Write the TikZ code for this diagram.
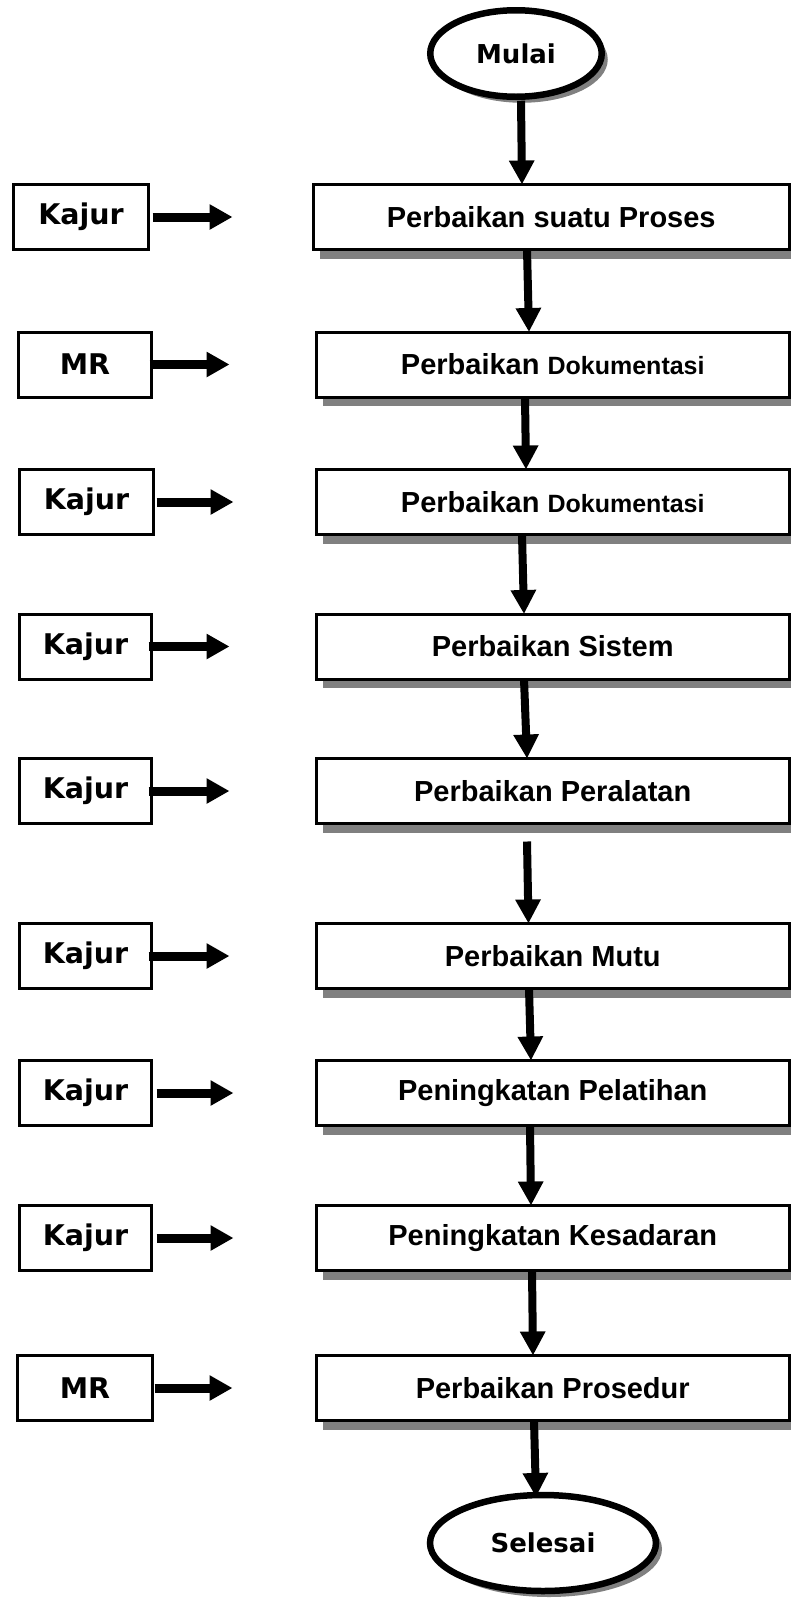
\documentclass[tikz,border=0pt]{standalone}
\usepackage{fontspec}
\setmainfont{Liberation Sans}
\newfontfamily\vfont{DejaVu Sans}
\usetikzlibrary{arrows.meta,shapes.geometric,shadows}
\definecolor{shadowgray}{RGB}{128,128,128}
\tikzset{
  mainbox/.style={draw, rectangle, line width=3pt, fill=white, minimum width=472.5pt,
    minimum height=65pt, inner sep=0pt, outer sep=0pt,
    font=\fontsize{29}{33}\selectfont\bfseries,
    drop shadow={shadow xshift=6pt, shadow yshift=-9pt, fill=shadowgray, opacity=1}},
  sidebox/.style={draw, rectangle, line width=3pt, fill=white, minimum width=133pt,
    minimum height=65pt, inner sep=0pt, outer sep=0pt,
    font=\vfont\fontsize{28.5}{32}\selectfont\bfseries},
  term/.style={ellipse, draw, line width=6.5pt, fill=white, inner sep=0pt, outer sep=0pt,
    font=\vfont\fontsize{26}{30}\selectfont\bfseries,
    drop shadow={shadow xshift=6pt, shadow yshift=-6pt, fill=shadowgray, opacity=1}},
  flow/.style={line width=8pt, -{Triangle[length=24pt,width=24pt]}},
  sideflow/.style={line width=9pt, -{Triangle[length=23pt,width=24pt]}}
}
\newcommand{\dokfont}{\fontsize{25}{30}\selectfont}
\begin{document}
\begin{tikzpicture}[x=1pt,y=-1pt]
\useasboundingbox (0,0) rectangle (791,1599);
\fill[white] (0,0) rectangle (791,1599);

% terminals
\node[term, minimum width=171.5pt, minimum height=86.5pt] (mulai) at (516,53.5) {Mulai};
\node[term, minimum width=226pt, minimum height=96pt] (selesai) at (543,1543) {Selesai};

% main process boxes
\node[mainbox, minimum width=475.5pt] (b1) at (551.25,217) {Perbaikan suatu Proses};
\node[mainbox] (b2) at (552.75,364.5) {Perbaikan {\dokfont Dokumentasi}};
\node[mainbox] (b3) at (552.75,502) {Perbaikan {\dokfont Dokumentasi}};
\node[mainbox] (b4) at (552.75,646.5) {Perbaikan Sistem};
\node[mainbox] (b5) at (552.75,791) {Perbaikan Peralatan};
\node[mainbox] (b6) at (552.75,956) {Perbaikan Mutu};
\node[mainbox] (b7) at (552.75,1093) {Peningkatan Pelatihan};
\node[mainbox] (b8) at (552.75,1238) {Peningkatan Kesadaran};
\node[mainbox] (b9) at (552.75,1388) {Perbaikan Prosedur};

% side boxes
\node[sidebox, minimum width=135pt] (l1) at (81,217) {Kajur};
\node[sidebox] (l2) at (85,364.5) {MR};
\node[sidebox, minimum width=134pt] (l3) at (86.5,502) {Kajur};
\node[sidebox, minimum width=132pt] (l4) at (85.5,646.5) {Kajur};
\node[sidebox, minimum width=132pt] (l5) at (85.5,791) {Kajur};
\node[sidebox, minimum width=132pt] (l6) at (85.5,956) {Kajur};
\node[sidebox, minimum width=132pt] (l7) at (85.5,1093) {Kajur};
\node[sidebox, minimum width=132pt] (l8) at (85.5,1238) {Kajur};
\node[sidebox, minimum width=135pt] (l9) at (85,1388) {MR};

% side arrows
\draw[sideflow] ([xshift=4pt]l1.east) -- ([xshift=-81pt]b1.west);
\draw[sideflow] ([xshift=-2pt]l2.east) -- ([xshift=-87pt]b2.west);
\draw[sideflow] ([xshift=3pt]l3.east) -- ([xshift=-83pt]b3.west);
\draw[sideflow] ([xshift=-3pt]l4.east) -- ([xshift=-87pt]b4.west);
\draw[sideflow] ([xshift=-3pt]l5.east) -- ([xshift=-87pt]b5.west);
\draw[sideflow] ([xshift=-3pt]l6.east) -- ([xshift=-87pt]b6.west);
\draw[sideflow] ([xshift=5pt]l7.east) -- ([xshift=-83pt]b7.west);
\draw[sideflow] ([xshift=5pt]l8.east) -- ([xshift=-83pt]b8.west);
\draw[sideflow] ([xshift=2pt]l9.east) -- ([xshift=-84pt]b9.west);

% main flow
\draw[flow] ([xshift=5pt,yshift=-4pt]mulai.south) -- ([xshift=-29.25pt]b1.north);
\draw[flow] ([xshift=-24.25pt]b1.south) -- ([xshift=-23.75pt]b2.north);
\draw[flow] ([xshift=-27.75pt]b2.south) -- ([xshift=-26.75pt]b3.north);
\draw[flow] ([xshift=-30.75pt]b3.south) -- ([xshift=-28.75pt]b4.north);
\draw[flow] ([xshift=-28.75pt]b4.south) -- ([xshift=-25.75pt]b5.north);
\draw[flow] ([xshift=-25.75pt,yshift=-18pt]b5.south) -- ([xshift=-24.25pt]b6.north);
\draw[flow] ([xshift=-23.75pt]b6.south) -- ([xshift=-21.75pt]b7.north);
\draw[flow] ([xshift=-22.75pt]b7.south) -- ([xshift=-21.75pt]b8.north);
\draw[flow] ([xshift=-20.75pt]b8.south) -- ([xshift=-19.75pt]b9.north);
\draw[flow] ([xshift=-18.75pt]b9.south) -- ([xshift=-7pt,yshift=-2pt]selesai.north);
\end{tikzpicture}
\end{document}
